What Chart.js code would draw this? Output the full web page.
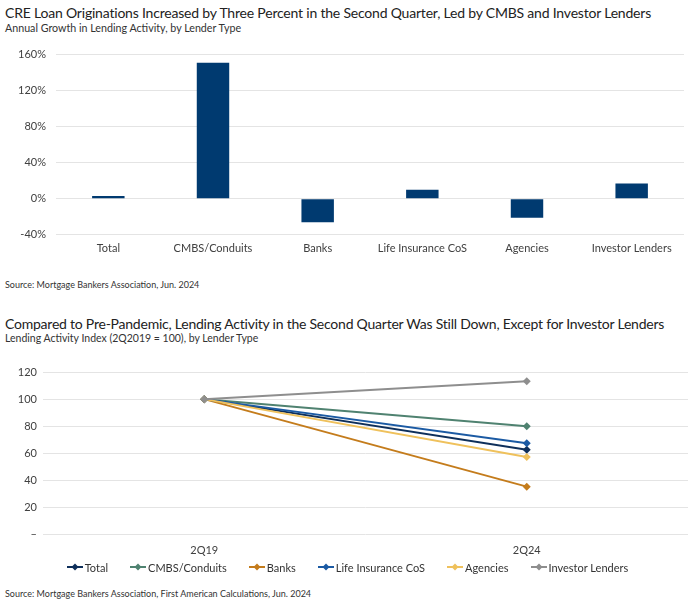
<!DOCTYPE html>
<html>
<head>
<meta charset="utf-8">
<script src="https://cdn.jsdelivr.net/npm/chart.js@4"></script>
<style>
  html, body { margin: 0; padding: 0; background: #fff; }
  body { width: 695px; height: 604px; position: relative; overflow: hidden; font-family: Lato, "Open Sans", sans-serif; color: #222; }
  .title { position: absolute; left: 5px; font-size: 14px; white-space: nowrap; letter-spacing: -0.2px; }
  .sub   { position: absolute; left: 5px; font-size: 10.7px; color: #333; white-space: nowrap; }
  .src   { position: absolute; left: 5px; font-size: 9px; color: #333; white-space: nowrap; }
  .wrap  { position: absolute; left: 0; width: 695px; }
  #indexLegend { position: absolute; left: 0; top: 560px; width: 695px; height: 14px; display: flex; justify-content: center; align-items: center; font-size: 11px; color: #333; }
  #indexLegend .item { display: flex; align-items: center; margin: 0 11px; white-space: nowrap; }
  #indexLegend svg { margin-right: 2px; }
</style>
</head>
<body>
  <div class="title" style="top:4px">CRE Loan Originations Increased by Three Percent in the Second Quarter, Led by CMBS and Investor Lenders</div>
  <div class="sub" style="top:21px">Annual Growth in Lending Activity, by Lender Type</div>
  <div class="wrap" style="top:37.5px;height:224px"><canvas id="growthChart"></canvas></div>
  <div class="src" style="top:279px">Source: Mortgage  Bankers Association, Jun. 2024</div>

  <div class="title" style="top:315px;letter-spacing:-0.23px">Compared to Pre-Pandemic, Lending Activity in the Second Quarter Was Still Down, Except for Investor Lenders</div>
  <div class="sub" style="top:332px;font-size:10.5px">Lending Activity Index (2Q2019 = 100), by Lender Type</div>
  <div class="wrap" style="top:358px;height:211px"><canvas id="indexChart"></canvas></div>
  <div id="indexLegend"></div>
  <div class="src" style="top:588px">Source: Mortgage  Bankers Association, First American Calculations, Jun. 2024</div>

<script>
(function () {
  'use strict';

  // ── Data ─────────────────────────────────────────────────────────────────────
  const lenderTypes  = ['Total', 'CMBS/Conduits', 'Banks', 'Life Insurance CoS', 'Agencies', 'Investor Lenders'];
  const annualGrowth = [3, 151, -26, 10, -21, 17];   // %, 2Q24 vs 2Q23

  const quarters     = ['2Q19', '2Q24'];
  const idxTotal     = [100, 62.7];
  const idxCmbs      = [100, 80];
  const idxBanks     = [100, 35.5];
  const idxLife      = [100, 67.5];
  const idxAgencies  = [100, 57.3];
  const idxInvestor  = [100, 113.2];

  const growthTicks  = [-40, 0, 40, 80, 120, 160];

  const FONT  = 'Lato, "Open Sans", sans-serif';
  const GRID  = '#e4e4e4';
  const TICK  = '#404040';

  // ── Bar chart: annual growth ────────────────────────────────────────────────
  new Chart(document.getElementById('growthChart'), {
    type: 'bar',
    data: {
      labels: lenderTypes,
      datasets: [{
        data: annualGrowth,
        backgroundColor: '#003a70',
        borderWidth: 0,
        categoryPercentage: 1,
        barPercentage: 0.31,
      }]
    },
    options: {
      responsive: true,
      maintainAspectRatio: false,
      animation: false,
      layout: { padding: { top: 6, right: 11, bottom: 0, left: 0 } },
      plugins: { legend: { display: false }, tooltip: { enabled: false } },
      scales: {
        x: {
          grid: { display: false, drawTicks: false },
          border: { display: false },
          ticks: { color: TICK, padding: 7, font: { family: FONT, size: 11 } }
        },
        y: {
          min: -40, max: 160,
          afterBuildTicks: s => { s.ticks = growthTicks.map(v => ({ value: v })); },
          afterFit: s => { s.width = 56; },
          grid: { color: GRID, lineWidth: 1, drawTicks: false },
          border: { display: false },
          ticks: { color: TICK, padding: 10, font: { family: FONT, size: 11 }, callback: v => v + '%' }
        }
      }
    }
  });

  // ── Line chart: index vs 2Q19 ───────────────────────────────────────────────
  const series = [
    { label: 'Total',              data: idxTotal,    color: '#0e2f5a', order: 4 },
    { label: 'CMBS/Conduits',      data: idxCmbs,     color: '#4f8270', order: 5 },
    { label: 'Banks',              data: idxBanks,    color: '#c47c1c', order: 6 },
    { label: 'Life Insurance CoS', data: idxLife,     color: '#1b5aa3', order: 3 },
    { label: 'Agencies',           data: idxAgencies, color: '#efc15c', order: 2 },
    { label: 'Investor Lenders',   data: idxInvestor, color: '#8e8e8e', order: 1 },
  ];

  const indexChart = new Chart(document.getElementById('indexChart'), {
    type: 'line',
    data: {
      labels: quarters,
      datasets: series.map(s => ({
        label: s.label,
        data: s.data,
        order: s.order,
        borderColor: s.color,
        backgroundColor: s.color,
        borderWidth: 2,
        pointStyle: 'rectRot',
        pointRadius: 4,
        pointBorderWidth: 0,
        fill: false,
        tension: 0,
      }))
    },
    options: {
      responsive: true,
      maintainAspectRatio: false,
      animation: false,
      layout: { padding: { top: 14, right: 7, bottom: 3, left: 0 } },
      plugins: { legend: { display: false }, tooltip: { enabled: false } },
      scales: {
        x: {
          offset: true,
          grid: { display: false, drawTicks: false },
          border: { display: false },
          ticks: { color: TICK, padding: 9, font: { family: FONT, size: 11 } }
        },
        y: {
          min: 0, max: 120,
          ticks: { stepSize: 20, color: TICK, padding: 6, font: { family: FONT, size: 11 }, callback: v => v === 0 ? '–' : v },
          afterFit: s => { s.width = 43; },
          grid: { color: GRID, lineWidth: 1, drawTicks: false },
          border: { display: false }
        }
      }
    }
  });

  // ── HTML legend (line + diamond marker) ─────────────────────────────────────
  const legendBox = document.getElementById('indexLegend');
  indexChart.data.datasets.forEach(ds => {
    const c = ds.borderColor;
    const item = document.createElement('span');
    item.className = 'item';
    item.innerHTML =
      `<svg width="16" height="10"><line x1="0" y1="5" x2="16" y2="5" stroke="${c}" stroke-width="2"/>` +
      `<path d="M8 1.5 L11.5 5 L8 8.5 L4.5 5 Z" fill="${c}"/></svg>${ds.label}`;
    legendBox.appendChild(item);
  });
})();
</script>
</body>
</html>
